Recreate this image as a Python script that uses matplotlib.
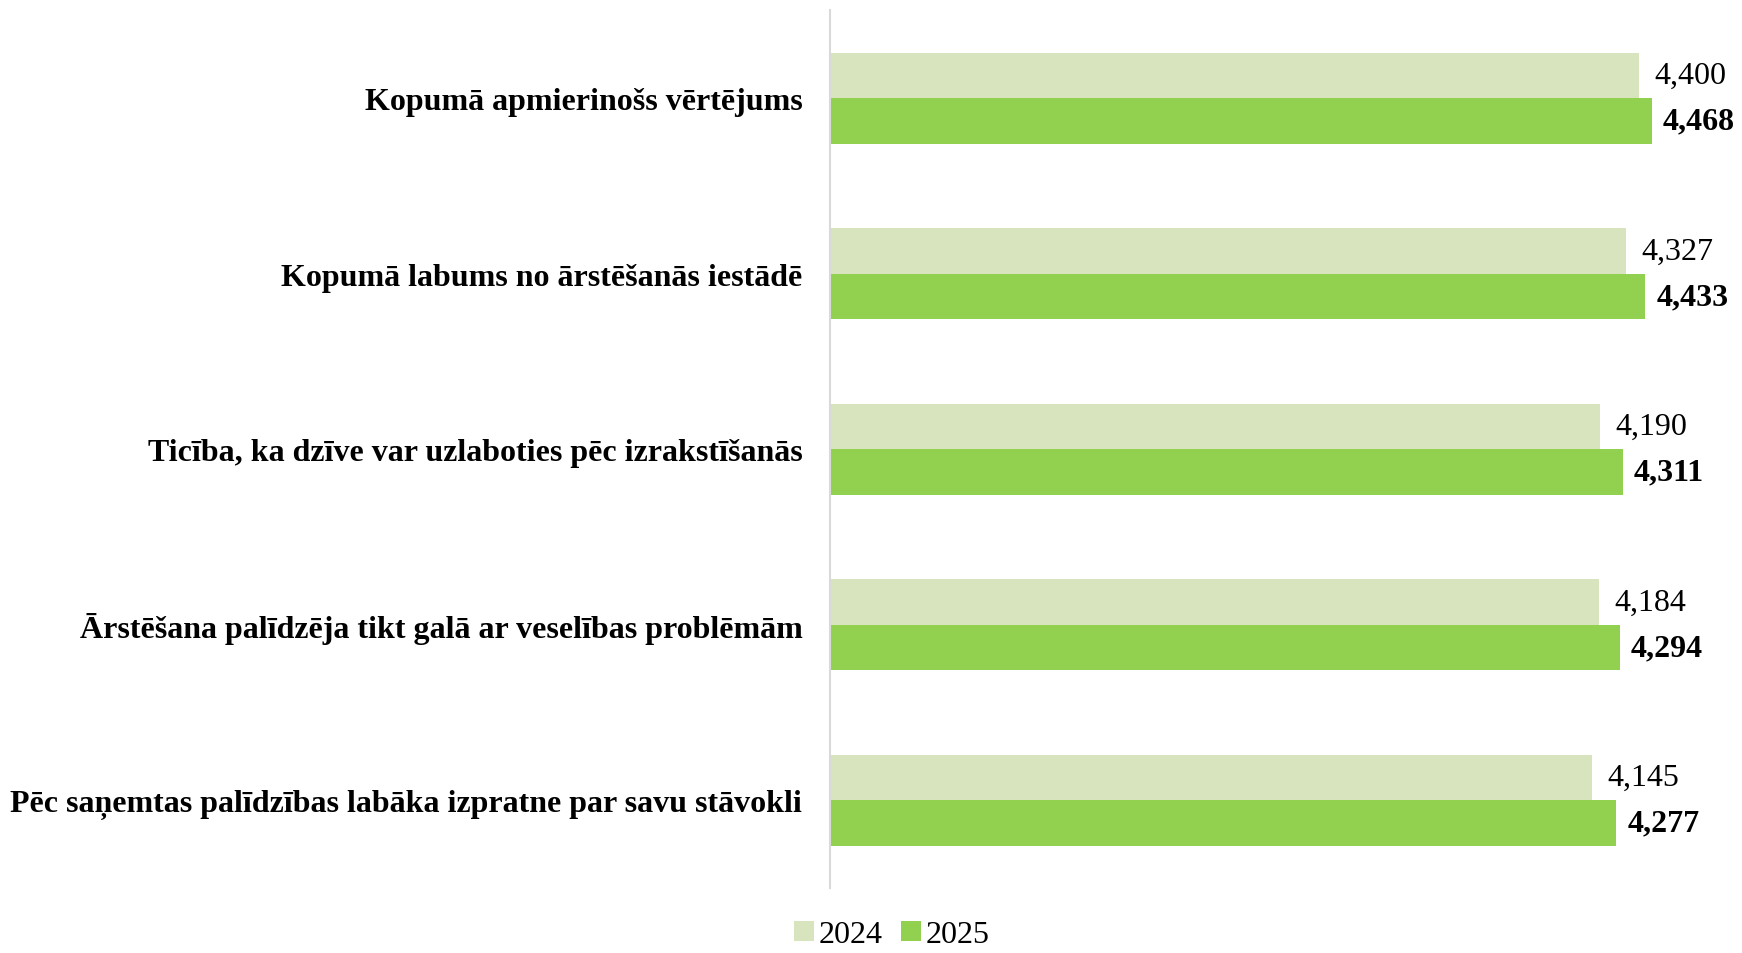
import matplotlib
matplotlib.use('Agg')
import matplotlib.pyplot as plt
import numpy as np

plt.rcParams['font.family'] = ['Liberation Serif', 'DejaVu Serif']

# data
categories = [
    'Kopumā apmierinošs vērtējums',
    'Kopumā labums no ārstēšanās iestādē',
    'Ticība, ka dzīve var uzlaboties pēc izrakstīšanās',
    'Ārstēšana palīdzēja tikt galā ar veselības problēmām',
    'Pēc saņemtas palīdzības labāka izpratne par savu stāvokli',
]
vals_2024 = [4.400, 4.327, 4.190, 4.184, 4.145]
vals_2025 = [4.468, 4.433, 4.311, 4.294, 4.277]
series_names = ['2024', '2025']

col_2024 = '#D7E4BD'
col_2025 = '#92D050'

def fmt(v):
    return f'{v:.3f}'.replace('.', ',')

fig = plt.figure(figsize=(17.42, 9.54), dpi=100)
ax = fig.add_axes([0.4765, 0.068, 0.5235, 0.92])

y = np.arange(len(categories))
h = 0.26
b1 = ax.barh(y - h / 2, vals_2024, height=h, color=col_2024, label=series_names[0])
b2 = ax.barh(y + h / 2, vals_2025, height=h, color=col_2025, label=series_names[1])

for yy, v in zip(y - h / 2, vals_2024):
    ax.annotate(fmt(v), (v, yy), xytext=(11, 0), textcoords='offset points',
                ha='left', va='center', fontsize=23)
for yy, v in zip(y + h / 2, vals_2025):
    ax.annotate(fmt(v), (v, yy), xytext=(8, 0), textcoords='offset points',
                ha='left', va='center', fontsize=23, fontweight='bold')

ax.set_xlim(0, 4.96)
ax.set_ylim(len(categories) - 0.5, -0.5)
ax.set_yticks(y)
ax.set_yticklabels(categories, fontsize=23, fontweight='bold')
ax.tick_params(axis='y', length=0, pad=20)
ax.set_xticks([])

for s in ['top', 'right', 'bottom']:
    ax.spines[s].set_visible(False)
ax.spines['left'].set_color('#D9D9D9')
ax.spines['left'].set_linewidth(1.5)

fig.legend(handles=[b1, b2], loc='lower center', bbox_to_anchor=(0.512, -0.026),
           ncol=2, frameon=False, fontsize=23, handlelength=0.6, handleheight=0.6,
           handletextpad=0.15, columnspacing=0.6)

plt.savefig('out.png', dpi=100)
